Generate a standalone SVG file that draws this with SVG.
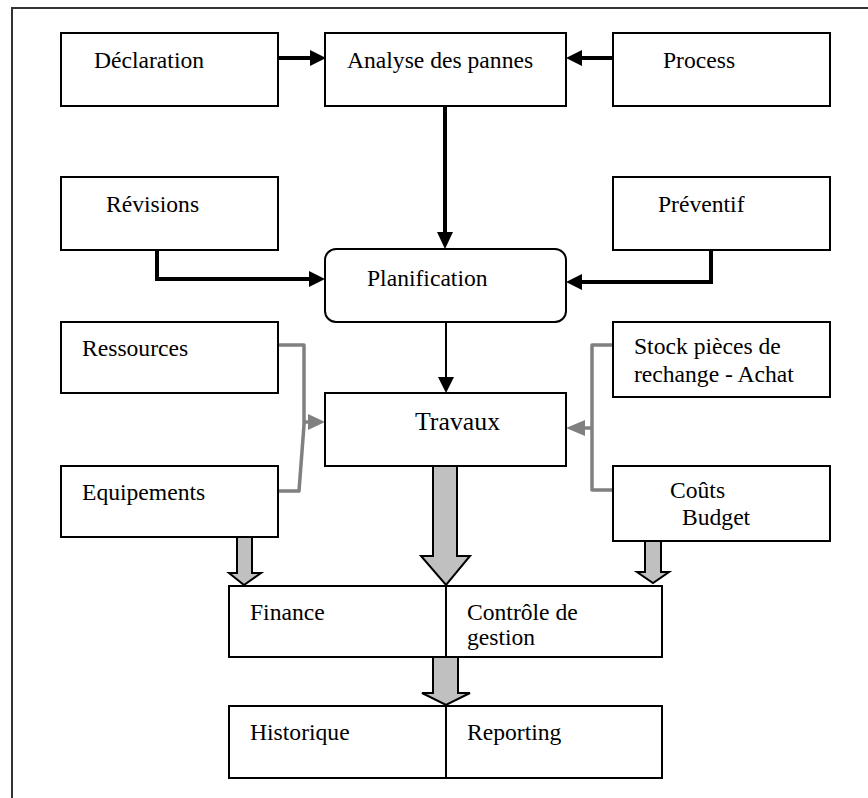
<svg xmlns="http://www.w3.org/2000/svg" width="868" height="798" viewBox="0 0 868 798">
  <style>
    .box { fill: #ffffff; stroke: #000000; stroke-width: 2; }
    .lbl { font-family: "Liberation Serif", "Times New Roman", serif; font-size: 23.6px; fill: #000000; }
    .big { font-size: 25.8px; }
    .thick { fill: none; stroke: #000000; stroke-width: 4; }
    .thin { fill: none; stroke: #000000; stroke-width: 2; }
    .grey { fill: none; stroke: #808080; stroke-width: 3.5; stroke-linejoin: round; }
    .head { fill: #000000; stroke: none; }
    .ghead { fill: #808080; stroke: none; }
    .block { fill: #c0c0c0; stroke: #000000; stroke-width: 2; stroke-linejoin: miter; }
  </style>

  <rect width="868" height="798" fill="#ffffff"/>
  <!-- outer frame -->
  <path d="M12,798 V8 H868" fill="none" stroke="#333333" stroke-width="2"/>

  <!-- connectors -->
  <g id="connectors">
    <!-- Déclaration -> Analyse -->
    <path class="thick" d="M278,58 H311"/>
    <polygon class="head" points="310,50 326,58 310,66"/>
    <!-- Process -> Analyse -->
    <path class="thick" d="M613,58 H580"/>
    <polygon class="head" points="582,50 566,58 582,66"/>
    <!-- Analyse -> Planification -->
    <path class="thick" d="M445,106 V234"/>
    <polygon class="head" points="437,232 445,249 453,232"/>
    <!-- Révisions -> Planification -->
    <path class="thick" d="M157,250 V279 H311"/>
    <polygon class="head" points="309,271 325,279 309,287"/>
    <!-- Préventif -> Planification -->
    <path class="thick" d="M711,250 V282 H580"/>
    <polygon class="head" points="582,274 566,282 582,290"/>
    <!-- Planification -> Travaux -->
    <path class="thin" d="M446,322 V380"/>
    <polygon class="head" points="438,377 446,393 454,377"/>
    <!-- Ressources / Equipements -> Travaux -->
    <path class="grey" d="M278,345 H304 V425 L299,491 H278"/>
    <path class="grey" d="M304,422 H311"/>
    <polygon class="ghead" points="308,414 325,422 308,430"/>
    <!-- Stock / Coûts -> Travaux -->
    <path class="grey" d="M613,345 H592 V490 H613"/>
    <path class="grey" d="M592,428 H584"/>
    <polygon class="ghead" points="585,420 566,428 585,436"/>
    <!-- block arrows -->
    <polygon class="block" points="237,537 252,537 252,573 261,573 244,585 229,573 237,573"/>
    <polygon class="block" points="433,466 457,466 457,556 470,556 446,585 421,556 433,556"/>
    <polygon class="block" points="645,541 661,541 661,572 669,572 653,583 637,572 645,572"/>
    <polygon class="block" points="433,657 458,657 458,693 470,693 446,705 422,693 433,693"/>
  </g>

  <g id="declaration">
    <rect class="box" x="61" y="33" width="217" height="73"/>
    <text class="lbl" x="94" y="68">Déclaration</text>
  </g>
  <g id="analyse">
    <rect class="box" x="325" y="33" width="241" height="73"/>
    <text class="lbl" x="347" y="68">Analyse des pannes</text>
  </g>
  <g id="process">
    <rect class="box" x="613" y="33" width="217" height="73"/>
    <text class="lbl" x="663" y="68">Process</text>
  </g>
  <g id="revisions">
    <rect class="box" x="61" y="177" width="217" height="73"/>
    <text class="lbl" x="106" y="212">Révisions</text>
  </g>
  <g id="preventif">
    <rect class="box" x="613" y="177" width="217" height="73"/>
    <text class="lbl" x="658" y="212">Préventif</text>
  </g>
  <g id="planification">
    <rect class="box" x="325" y="249" width="241" height="73" rx="11" ry="11"/>
    <text class="lbl" x="367" y="286">Planification</text>
  </g>
  <g id="ressources">
    <rect class="box" x="61" y="322" width="217" height="71"/>
    <text class="lbl" x="82" y="356">Ressources</text>
  </g>
  <g id="stock">
    <rect class="box" x="613" y="322" width="217" height="75"/>
    <text class="lbl" x="634" y="354">Stock pièces de</text>
    <text class="lbl" x="634" y="382">rechange - Achat</text>
  </g>
  <g id="travaux">
    <rect class="box" x="325" y="393" width="241" height="73"/>
    <text class="lbl big" x="415" y="430">Travaux</text>
  </g>
  <g id="equipements">
    <rect class="box" x="61" y="466" width="217" height="71"/>
    <text class="lbl" x="82" y="500">Equipements</text>
  </g>
  <g id="couts">
    <rect class="box" x="613" y="466" width="217" height="75"/>
    <text class="lbl" x="670" y="498">Coûts</text>
    <text class="lbl" x="682" y="525">Budget</text>
  </g>
  <g id="finance-controle">
    <rect class="box" x="229" y="586" width="433" height="71"/>
    <line x1="446" y1="586" x2="446" y2="657" stroke="#000000" stroke-width="2"/>
    <text class="lbl" x="250" y="620">Finance</text>
    <text class="lbl" x="467" y="620">Contrôle de</text>
    <text class="lbl" x="467" y="645">gestion</text>
  </g>
  <g id="historique-reporting">
    <rect class="box" x="229" y="706" width="433" height="72"/>
    <line x1="446" y1="706" x2="446" y2="778" stroke="#000000" stroke-width="2"/>
    <text class="lbl" x="250" y="740">Historique</text>
    <text class="lbl" x="467" y="740">Reporting</text>
  </g>
</svg>
